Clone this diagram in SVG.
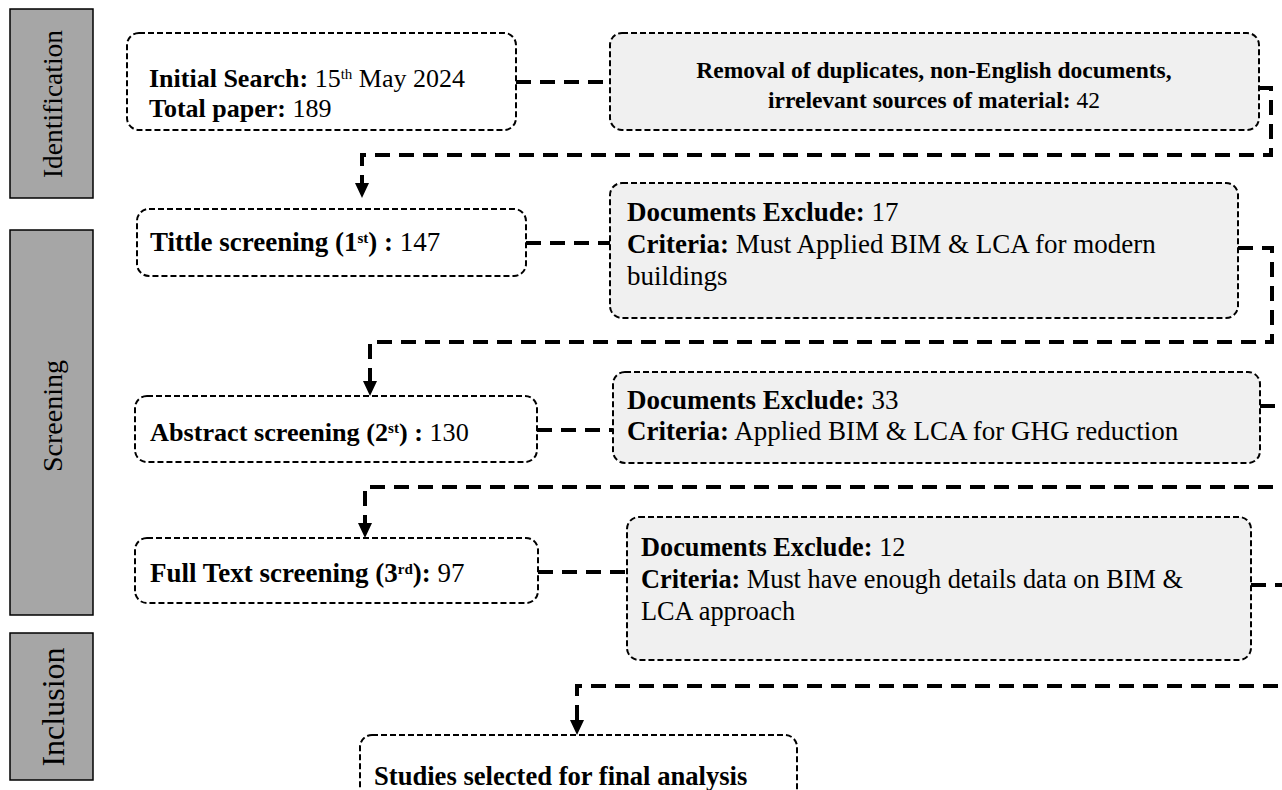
<svg xmlns="http://www.w3.org/2000/svg" width="1282" height="790" viewBox="0 0 1282 790">
<style>
.side{fill:#a6a6a6;stroke:#000;stroke-width:1.5}
.lab{font-family:"Liberation Serif","Times New Roman",serif;fill:#000;text-anchor:middle;dominant-baseline:central}
.box{fill:#fff;stroke:#000;stroke-width:2;stroke-dasharray:6 3}
.gbox{fill:#f0f0f0;stroke:#000;stroke-width:2;stroke-dasharray:6 3}
.t{font-family:"Liberation Serif","Times New Roman",serif;font-size:27px;fill:#000}
.b{font-weight:bold}
.sup{font-size:15px;baseline-shift:super}
.con{fill:none;stroke:#000;stroke-width:4;stroke-dasharray:15 9}
.ah{fill:#000}
</style>

<g id="phase-identification">
<rect class="side" x="10" y="9" width="83" height="189"/>
<text class="lab" style="font-size:27.5px" transform="rotate(-90 52 104)" x="52" y="104">Identification</text>
</g>
<g id="phase-screening">
<rect class="side" x="10" y="230" width="83" height="385"/>
<text class="lab" style="font-size:28px" transform="rotate(-90 52 416)" x="52" y="416">Screening</text>
</g>
<g id="phase-inclusion">
<rect class="side" x="10" y="633" width="83" height="147"/>
<text class="lab" style="font-size:32px" transform="rotate(-90 53 707)" x="53" y="707">Inclusion</text>
</g>

<g id="connectors">
<line class="con" x1="516" y1="82" x2="610" y2="82"/>
<polyline class="con" points="1259,88 1271,88 1271,155 362,155 362,183"/>
<path class="ah" d="M355,183 L369,183 L362,198 Z"/>
<line class="con" x1="526" y1="243" x2="610" y2="243"/>
<polyline class="con" points="1238,248 1272,248 1272,342 370,342 370,381"/>
<path class="ah" d="M363,381 L377,381 L370,396 Z"/>
<line class="con" x1="537" y1="430" x2="613" y2="430"/>
<polyline class="con" points="1260,406 1286,406 1286,487 365,487 365,523"/>
<path class="ah" d="M358,523 L372,523 L365,538 Z"/>
<line class="con" x1="538" y1="572" x2="627" y2="572"/>
<polyline class="con" points="1251,585 1286,585 1286,686 577,686 577,720"/>
<path class="ah" d="M570,720 L584,720 L577,735 Z"/>
</g>

<g id="n-initial">
<rect class="box" x="127" y="33" width="389" height="97" rx="12"/>
<text class="t" x="149" y="87" style="font-size:26px"><tspan class="b">Initial Search:</tspan> 15<tspan class="sup">th</tspan> May 2024</text>
<text class="t" x="149" y="117" style="font-size:26px"><tspan class="b">Total paper:</tspan> 189</text>
</g>

<g id="n-removal">
<rect class="gbox" x="610" y="33" width="649" height="97" rx="12"/>
<text class="t b" x="934" y="78" text-anchor="middle" style="font-size:23.5px">Removal of duplicates, non-English documents,</text>
<text class="t" x="934" y="108" text-anchor="middle" style="font-size:23.5px"><tspan class="b">irrelevant sources of material:</tspan> 42</text>
</g>

<g id="n-title">
<rect class="box" x="137" y="209" width="389" height="67" rx="12"/>
<text class="t" x="150" y="251"><tspan class="b">Tittle screening (1<tspan class="sup">st</tspan>) :</tspan> 147</text>
</g>

<g id="n-excl1">
<rect class="gbox" x="610" y="183" width="628" height="135" rx="12"/>
<text class="t" x="627" y="221"><tspan class="b">Documents Exclude:</tspan> 17</text>
<text class="t" x="627" y="253"><tspan class="b">Criteria:</tspan> Must Applied BIM &amp; LCA for modern</text>
<text class="t" x="627" y="285">buildings</text>
</g>

<g id="n-abstract">
<rect class="box" x="135" y="396" width="402" height="66" rx="12"/>
<text class="t" x="150" y="441" style="font-size:26.2px"><tspan class="b">Abstract screening (2<tspan class="sup">st</tspan>) :</tspan> 130</text>
</g>

<g id="n-excl2">
<rect class="gbox" x="613" y="372" width="647" height="91" rx="12"/>
<text class="t" x="627" y="409"><tspan class="b">Documents Exclude:</tspan> 33</text>
<text class="t" x="627" y="440"><tspan class="b">Criteria:</tspan> Applied BIM &amp; LCA for GHG reduction</text>
</g>

<g id="n-fulltext">
<rect class="box" x="135" y="538" width="403" height="65" rx="12"/>
<text class="t" x="150" y="582"><tspan class="b">Full Text screening (3<tspan class="sup">rd</tspan>):</tspan> 97</text>
</g>

<g id="n-excl3">
<rect class="gbox" x="627" y="517" width="624" height="143" rx="12"/>
<text class="t" x="641" y="556" style="font-size:26.3px"><tspan class="b">Documents Exclude:</tspan> 12</text>
<text class="t" x="641" y="588" style="font-size:26.3px"><tspan class="b">Criteria:</tspan> Must have enough details data on BIM &amp;</text>
<text class="t" x="641" y="620" style="font-size:26.3px">LCA approach</text>
</g>

<g id="n-final">
<rect class="box" x="360" y="735" width="437" height="80" rx="12"/>
<text class="t b" x="374" y="785" style="font-size:26.6px">Studies selected for final analysis</text>
</g>
</svg>
